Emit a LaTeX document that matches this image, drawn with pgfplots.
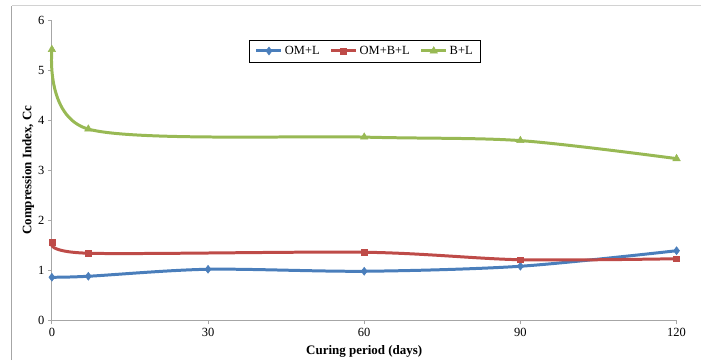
\documentclass[border=0pt]{standalone}
\usepackage{fontspec}
\setmainfont{Liberation Serif}
\usepackage{pgfplots}
\pgfplotsset{compat=1.18}
\definecolor{cblue}{HTML}{4A7EBB}
\definecolor{cred}{HTML}{BE4B48}
\definecolor{cgreen}{HTML}{98B954}
\begin{document}
\begin{tikzpicture}
\begin{axis}[name=ax, scale only axis, width=626pt, height=301pt,
 xmin=0,xmax=120,ymin=0,ymax=6,
 xtick={0,30,60,90,120}, ytick={0,1,2,3,4,5,6},
 axis lines*=left, axis line style={gray!70, line width=0.8pt},
 tick style={gray!70, line width=0.8pt}, tick align=outside, major tick length=4pt,
 tick label style={font=\fontsize{12.5}{14}\selectfont},
 /pgf/number format/assume math mode=true,
 xlabel={Curing period (days)}, ylabel={Compression Index, Cc},
 label style={font=\fontsize{13}{15}\selectfont\bfseries},
 xlabel style={at={(axis description cs:0.5,-0.103)},anchor=center},
 ylabel style={at={(axis description cs:-0.038,0.5)},anchor=center},
 legend style={at={(0.315,0.934)},anchor=north west, legend columns=-1, draw=black, line width=0.7pt,
   font=\fontsize{12.5}{14}\selectfont, inner ysep=4pt, inner xsep=6pt,
   /tikz/every even column/.append style={column sep=8pt}},
 legend image code/.code={\draw[#1, mark repeat=2, mark phase=2] plot coordinates {(0cm,0cm) (0.44cm,0cm) (0.88cm,0cm)};},
 clip=false,
]
\addplot[cblue, line width=3pt, smooth, mark=diamond*, mark size=4pt, mark options={solid, fill=cblue, line width=0.5pt}]
 coordinates {(0,0.86) (7,0.88) (30,1.02) (60,0.98) (90,1.08) (120,1.39)};
\addlegendentry{OM+L}
\addplot[cred, line width=3pt, smooth, mark=square*, mark size=3pt, mark options={solid, fill=cred, line width=0.5pt}]
 coordinates {(0,1.55) (7,1.34) (60,1.36) (90,1.21) (120,1.23)};
\addlegendentry{OM+B+L}
\addplot[cgreen, line width=3pt, smooth, mark=triangle*, mark size=4.3pt, mark options={solid, fill=cgreen, line width=0.5pt}]
 coordinates {(0,5.41) (7,3.82) (60,3.66) (90,3.59) (120,3.23)};
\addlegendentry{B+L}
\end{axis}
\pgfresetboundingbox
\path ([xshift=-52pt,yshift=-39pt]ax.south west) rectangle ([xshift=23pt,yshift=20pt]ax.north east);
\draw[gray!70, line width=1pt] ([xshift=-40pt,yshift=-40pt]ax.south west) -- ([xshift=-40pt,yshift=14pt]ax.north west);
\draw[gray!35, line width=1pt] ([xshift=-40pt,yshift=14pt]ax.north west) -- ([xshift=24pt,yshift=14pt]ax.north east);
\end{tikzpicture}
\end{document}
